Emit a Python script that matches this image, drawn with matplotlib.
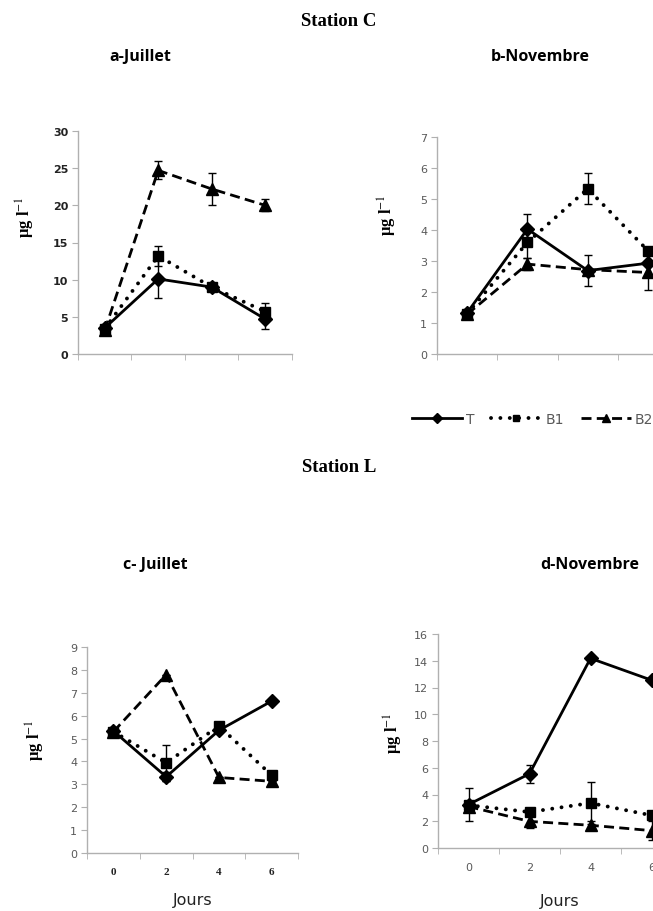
import matplotlib.pyplot as plt

days = [0, 2, 4, 6]
xpos = [0, 1, 2, 3]
series = ["T", "B1", "B2"]

# Station C - Juillet
a_T = [3.5, 10.1, 9.0, 4.7]
a_B1 = [3.4, 13.2, 9.0, 5.7]
a_B2 = [3.2, 24.7, 22.2, 20.0]
a_T_err = [0, 2.5, 0, 1.3]
a_B1_err = [0, 1.3, 0, 1.1]
a_B2_err = [0, 1.2, 2.2, 0.8]

# Station C - Novembre
b_T = [1.33, 4.03, 2.69, 2.93]
b_B1 = [1.30, 3.60, 5.33, 3.33]
b_B2 = [1.28, 2.90, 2.72, 2.63]
b_T_err = [0, 0.5, 0.5, 0]
b_B1_err = [0, 0.5, 0.5, 0]
b_B2_err = [0, 0.2, 0, 0.55]

# Station L - Juillet
c_T = [5.33, 3.33, 5.36, 6.64]
c_B1 = [5.30, 3.94, 5.55, 3.39]
c_B2 = [5.30, 7.79, 3.30, 3.13]
c_T_err = [0, 0.2, 0, 0]
c_B1_err = [0, 0.8, 0, 0]
c_B2_err = [0, 0, 0, 0]

# Station L - Novembre
d_T = [3.25, 5.55, 14.18, 12.55]
d_B1 = [3.20, 2.69, 3.36, 2.44]
d_B2 = [3.10, 1.99, 1.70, 1.30]
d_T_err = [1.25, 0.68, 0, 0]
d_B1_err = [0, 0, 1.55, 0]
d_B2_err = [0, 0.5, 0.3, 0.7]

plt.rcParams["font.family"] = ["DejaVu Sans"]
plt.rcParams["mathtext.fontset"] = "stix"

fig = plt.figure(figsize=(6.53, 9.12), dpi=100)

W, H = 653.0, 912.0
spine_col = "#b0b0b0"
tick_col = "#595959"


def make_ax(left, top, bottom, unit_px, xmax):
    width = (xmax + 0.5) * unit_px
    return fig.add_axes([left / W, 1 - bottom / H, width / W, (bottom - top) / H])


styles = {
    "T": dict(linestyle="-", lw=2.0, marker="D", markersize=7),
    "B1": dict(linestyle=(0, (0.01, 2.4)), lw=2.8, marker="s", markersize=6.5,
               dash_capstyle="round"),
    "B2": dict(linestyle=(0, (3.6, 1.9)), lw=2.0, marker="^", markersize=8),
}


def draw(ax, data, errs, ymax, ystep, xlabels, xlab_font):
    lines = []
    for name, vals, err in zip(series, data, errs):
        cont = ax.errorbar(xpos, vals, yerr=err, color="black",
                           elinewidth=1.0, capsize=3, capthick=1.0, label=name,
                           markerfacecolor="black", markeredgecolor="black",
                           **styles[name])
        lines.append(cont.lines[0])
    ax.set_ylim(0, ymax)
    ax.set_yticks(range(0, ymax + 1, ystep))
    for s in ["top", "right"]:
        ax.spines[s].set_visible(False)
    for s in ["left", "bottom"]:
        ax.spines[s].set_color(spine_col)
        ax.spines[s].set_linewidth(1.0)
    ax.set_xticks([-0.5, 0.5, 1.5, 2.5, 3.5], minor=True)
    ax.tick_params(axis="x", which="minor", length=4, color=spine_col, direction="out")
    ax.tick_params(axis="y", length=4, color=spine_col, labelsize=8,
                   labelcolor=tick_col, pad=3)
    ax.set_xticks(xpos)
    if xlabels:
        ax.set_xticklabels(days, **xlab_font)
        ax.tick_params(axis="x", which="major", length=0, pad=10)
    else:
        ax.set_xticklabels([])
        ax.tick_params(axis="x", which="major", length=0)
    return lines


ax_a = make_ax(78, 132, 355, 58.3, 3.17)
ax_a.set_xlim(-0.5, 3.17)
draw(ax_a, [a_T, a_B1, a_B2], [a_T_err, a_B1_err, a_B2_err], 30, 5, False, {})
ax_a.tick_params(axis="y", labelcolor="#222222")
for lab in ax_a.get_yticklabels():
    lab.set_fontweight("bold")

ax_b = make_ax(437, 138, 355, 60.3, 3.5)
ax_b.set_xlim(-0.5, 3.5)
leg_lines = draw(ax_b, [b_T, b_B1, b_B2], [b_T_err, b_B1_err, b_B2_err], 7, 1, False, {})

ax_c = make_ax(87, 648, 854, 57.7, 3.16)
ax_c.set_xlim(-0.5, 3.16)
draw(ax_c, [c_T, c_B1, c_B2], [c_T_err, c_B1_err, c_B2_err], 9, 1, True,
     dict(fontfamily="Liberation Serif", fontweight="bold", fontsize=8, color="#222222"))

ax_d = make_ax(438, 635, 849, 61.0, 3.5)
ax_d.set_xlim(-0.5, 3.5)
draw(ax_d, [d_T, d_B1, d_B2], [d_T_err, d_B1_err, d_B2_err], 16, 2, True,
     dict(fontsize=8, color=tick_col))

# y labels
ylab = "µg l$^{-1}$"
for (x, y) in [(25, 217), (387, 215), (35, 740), (393, 733)]:
    fig.text(x / W, 1 - y / H, ylab, rotation=90, ha="center", va="center",
             fontfamily="Liberation Serif", fontweight="bold", fontsize=12)

# titles
fig.text(339 / W, 1 - 21 / H, "Station C", ha="center", va="center",
         fontfamily="Liberation Serif", fontweight="bold", fontsize=13.5)
fig.text(339 / W, 1 - 468 / H, "Station L", ha="center", va="center",
         fontfamily="Liberation Serif", fontweight="bold", fontsize=13.5)
sub_font = dict(fontfamily="Open Sans", fontweight="bold", fontsize=11.5)
fig.text(140 / W, 1 - 57 / H, "a-Juillet", ha="center", va="center", **sub_font)
fig.text(540 / W, 1 - 57 / H, "b-Novembre", ha="center", va="center", **sub_font)
fig.text(155 / W, 1 - 565 / H, "c- Juillet", ha="center", va="center", **sub_font)
fig.text(590 / W, 1 - 565 / H, "d-Novembre", ha="center", va="center", **sub_font)

# x axis titles
fig.text(193 / W, 1 - 901 / H, "Jours", ha="center", va="center", fontsize=11.5, color="#222222")
fig.text(560 / W, 1 - 902 / H, "Jours", ha="center", va="center", fontsize=11.5, color="#222222")

# legend
fig.legend(leg_lines, series, ncol=3, loc="center left",
           bbox_to_anchor=(412 / W, 1 - 420 / H), frameon=False,
           handlelength=3.6, handletextpad=0.3, columnspacing=1.2,
           borderpad=0, borderaxespad=0, markerscale=0.7,
           prop=dict(size=10), labelcolor=tick_col)

fig.savefig("out.png", dpi=100)
